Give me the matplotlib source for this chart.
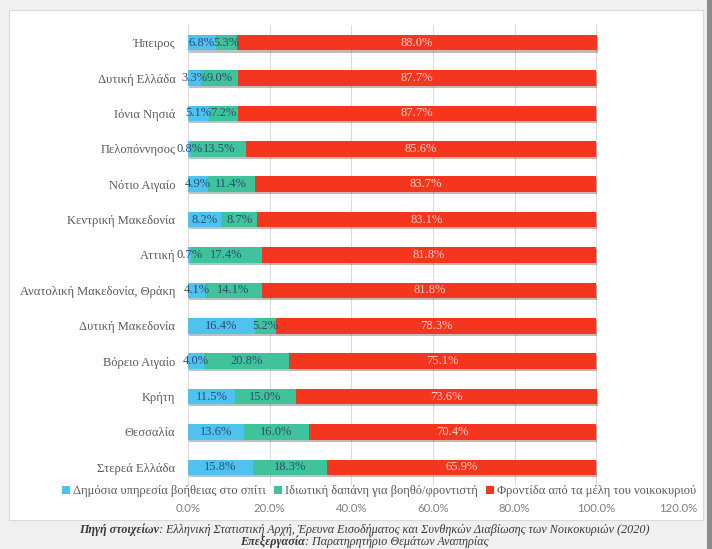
import numpy as np
import matplotlib.pyplot as plt
import matplotlib.patheffects as pe
from matplotlib.patches import Rectangle, Patch

# data (top to bottom as in the chart)
regions = ["Ήπειρος", "Δυτική Ελλάδα", "Ιόνια Νησιά", "Πελοπόννησος",
           "Νότιο Αιγαίο", "Κεντρική Μακεδονία", "Αττική",
           "Ανατολική Μακεδονία, Θράκη", "Δυτική Μακεδονία", "Βόρειο Αιγαίο",
           "Κρήτη", "Θεσσαλία", "Στερεά Ελλάδα"]
public_help = [6.8, 3.3, 5.1, 0.8, 4.9, 8.2, 0.7, 4.1, 16.4, 4.0, 11.5, 13.6, 15.8]
private_help = [5.3, 9.0, 7.2, 13.5, 11.4, 8.7, 17.4, 14.1, 5.2, 20.8, 15.0, 16.0, 18.3]
family_care = [88.0, 87.7, 87.7, 85.6, 83.7, 83.1, 81.8, 81.8, 78.3, 75.1, 73.6, 70.4, 65.9]

series_names = ["Δημόσια υπηρεσία βοήθειας στο σπίτι",
                "Ιδιωτική δαπάνη για βοηθό/φροντιστή",
                "Φροντίδα από τα μέλη του νοικοκυριού"]
colors = ["#4FC3F0", "#40C39B", "#F4361E"]
label_colors = ["#2E4C6E", "#2E4C6E", "#FBD3CB"]

source_bold = ["Πηγή στοιχείων", "Επεξεργασία"]
source_rest = [": Ελληνική Στατιστική Αρχή, Έρευνα Εισοδήματος και Συνθηκών Διαβίωσης των Νοικοκυριών (2020)",
               ": Παρατηρητήριο Θεμάτων Αναπηρίας"]

serif = ["Liberation Serif", "DejaVu Serif"]
sans = ["Lato", "Liberation Sans", "DejaVu Sans"]

fig = plt.figure(figsize=(7.12, 5.49), dpi=100)
fig.patch.set_facecolor("#F0F0F0")

# white chart panel
W, H = 712, 549
fig.patches.append(Rectangle((9 / W, 1 - 520 / H), 694 / W, 510 / H,
                             transform=fig.transFigure, facecolor="white",
                             edgecolor="#DADADA", lw=0.8, zorder=-2))
fig.patches.append(Rectangle((707 / W, 0), 5 / W, 1, transform=fig.transFigure,
                             facecolor="#8C8C8C", edgecolor="none", zorder=-2))

ax = fig.add_axes([188 / W, 1 - 485 / H, 490 / W, 460 / H])
ax.set_facecolor("none")

y = np.arange(len(regions))
left = np.zeros(len(regions))
shadow = [pe.SimplePatchShadow(offset=(0.8, -1.5), alpha=0.3), pe.Normal()]
for vals, col, lc in zip([public_help, private_help, family_care],
                         colors, label_colors):
    vals = np.array(vals)
    bars = ax.barh(y, vals, left=left, height=0.44, color=col, zorder=3)
    for b in bars:
        b.set_path_effects(shadow)
    for yi, l, v in zip(y, left, vals):
        ax.text(l + v / 2, yi, f"{v:.1f}%", ha="center", va="center",
                fontsize=9, color=lc, family=serif, zorder=4)
    left = left + vals

ax.set_xlim(0, 120)
ax.set_ylim(len(regions) - 0.5, -0.5)
ax.set_xticks(np.arange(0, 121, 20))
ax.set_xticklabels([f"{t:.1f}%" for t in np.arange(0, 121, 20)],
                   fontsize=8.2, color="#7F7F7F", family=sans)
ax.set_yticks(y)
ax.set_yticklabels(regions, fontsize=9, color="#595959", family=serif)
ax.tick_params(axis="y", length=0, pad=9)
ax.tick_params(axis="x", length=0, pad=13)
ax.grid(axis="x", color="#DCDCDC", lw=0.8, zorder=0)
for s in ax.spines.values():
    s.set_visible(False)

handles = [Patch(facecolor=c, edgecolor="none") for c in colors]
fig.legend(handles, series_names, loc="center",
           bbox_to_anchor=(379 / W, 1 - 491 / H), ncol=3,
           frameon=False, prop={"family": serif, "size": 9},
           labelcolor="#595959", handlelength=0.6, handleheight=0.6,
           handletextpad=0.25, columnspacing=0.7)

# source notes under the panel, bold lead-in + italic rest, centred as one line
renderer = fig.canvas.get_renderer()
for bold, rest, ypix in zip(source_bold, source_rest, [530, 541.5]):
    tb = fig.text(0, 1 - ypix / H, bold, ha="left", va="center", fontsize=8.7,
                  style="italic", weight="bold", family=serif, color="#3A3A3A")
    tr = fig.text(0, 1 - ypix / H, rest, ha="left", va="center", fontsize=8.7,
                  style="italic", family=serif, color="#3A3A3A")
    wb = tb.get_window_extent(renderer).width
    wr = tr.get_window_extent(renderer).width
    x0 = 364 - (wb + wr) / 2
    tb.set_x(x0 / W)
    tr.set_x((x0 + wb) / W)

fig.savefig("out.png", dpi=100)
